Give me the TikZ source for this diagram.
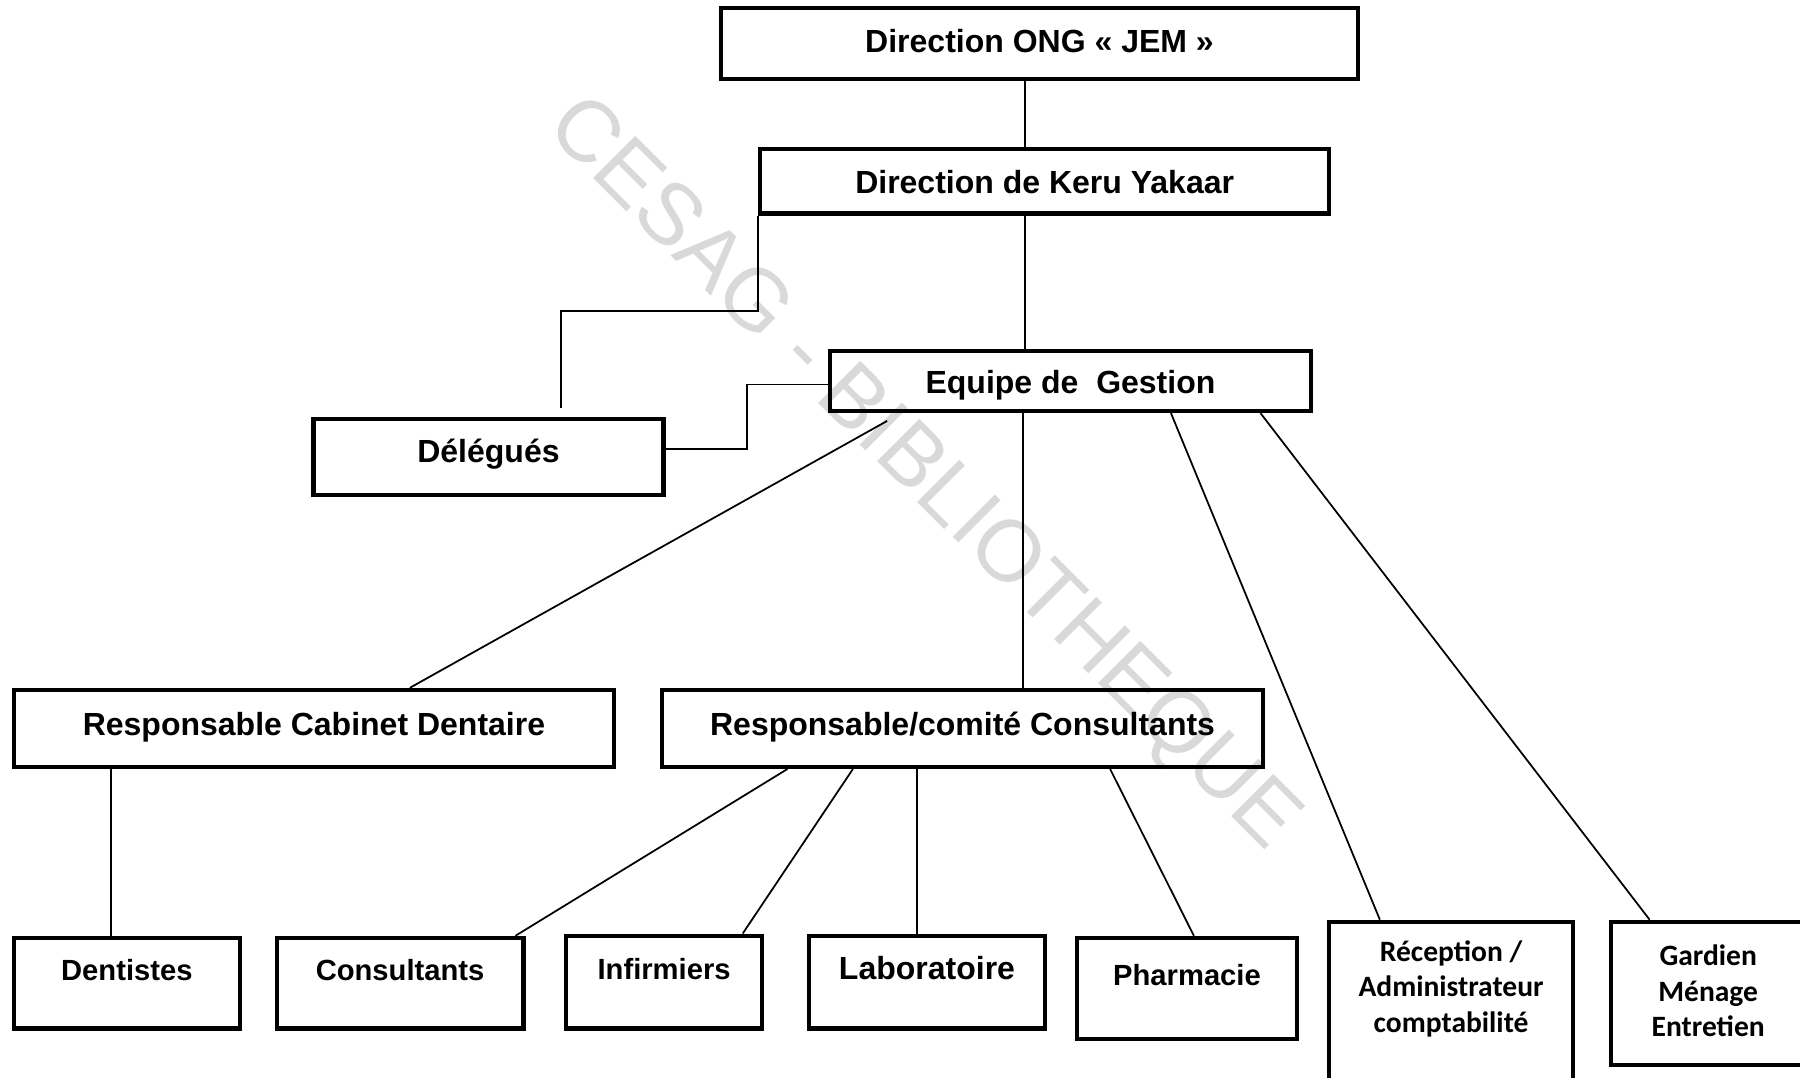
\documentclass[tikz,border=0pt]{standalone}
\usepackage{fontspec}
\setmainfont{Liberation Sans}
\newfontfamily\calib{Carlito}
\usetikzlibrary{positioning,calc}
\newlength\pxu
\setlength\pxu{0.01148cm}
\tikzstyle{box}=[rectangle, draw=black, line width=1.2pt, inner sep=0pt, text height=7pt, text depth=0pt, font=\bfseries\fontsize{9.1}{11}\selectfont]
\tikzstyle{sbox}=[box, font=\bfseries\fontsize{8.3}{10}\selectfont]
\tikzstyle{cbox}=[box, align=center, font=\calib\bfseries\fontsize{8.4}{10.1}\selectfont]
\tikzstyle{l1}=[line width=0.5pt]

\begin{document}
\begin{tikzpicture}[x=\pxu, y=-\pxu]
    \useasboundingbox (0,0) rectangle (1568,939);
    \clip (0,0) rectangle (1568,939);

    \node[rotate=-45, text=black!15, font=\fontsize{24.7}{24.7}\selectfont] at (803,414) (wm) {CESAG - BIBLIOTHEQUE};

    \node[box, minimum width=555\pxu, minimum height=62\pxu, text depth=2pt] at (905.5,38) (ong) {Direction ONG « JEM »};
    \node[box, minimum width=496\pxu, minimum height=56\pxu] at (910,158) (keru) {Direction de Keru Yakaar};
    \node[box, minimum width=419\pxu, minimum height=52\pxu] at (932.5,332) (eq) {Equipe de\ \ Gestion};
    \node[box, minimum width=305\pxu, minimum height=66\pxu, text depth=3.9pt] at (425.5,398) (del) {Délégués};

    \node[box, minimum width=523\pxu, minimum height=67\pxu, text depth=2.9pt] at (273.5,634.5) (rcd) {Responsable Cabinet Dentaire};
    \node[box, minimum width=523\pxu, minimum height=67\pxu, text depth=2.9pt] at (838.5,634.5) (rcc) {Responsable/comité Consultants};

    \node[sbox, minimum width=197\pxu, minimum height=79\pxu, text depth=8.8pt] at (110.5,856.5) (dent) {Dentistes};
    \node[sbox, minimum width=215\pxu, minimum height=79\pxu, text depth=8.8pt] at (348.5,856.5) (cons) {Consultants};
    \node[sbox, minimum width=171\pxu, minimum height=81\pxu, text depth=8.2pt] at (578.5,855.5) (inf) {Infirmiers};
    \node[box, minimum width=205\pxu, minimum height=81\pxu, text depth=8.2pt] at (807.5,855.5) (lab) {Laboratoire};
    \node[sbox, minimum width=192\pxu, minimum height=88\pxu, text depth=8.5pt] at (1034,861) (pha) {Pharmacie};
    \node[cbox, minimum width=212\pxu, minimum height=162\pxu, text height=9.8pt] at (1264,884) (rec) {Réception /\\Administrateur\\comptabilité};
    \node[cbox, minimum width=170\pxu, minimum height=125\pxu, text height=24.6pt] at (1488,865.5) (gar) {Gardien\\Ménage\\Entretien};

    \draw[l1] (ong.south -| 893,0) -- (keru.north -| 893,0);
    \draw[l1] (keru.south -| 893,0) -- (eq.north -| 893,0);
    \draw[l1, shorten >=8\pxu] (keru.south west) |- (489,271) -- (del.north -| 489,0);
    \draw[l1] (del.east |- 0,391) -| (651,335) -- (eq.west |- 0,335);

    \draw[l1, shorten <=14\pxu] (eq.south -| 785,0) -- (rcd.north -| 357,0);
    \draw[l1] (eq.south -| 891,0) -- (rcc.north -| 891,0);
    \draw[l1] (eq.south -| 1020,0) -- (rec.north -| 1202,0);
    \draw[l1] (eq.south -| 1098,0) -- (gar.north -| 1437,0);

    \draw[l1] (rcd.south -| 97,0) -- (dent.north -| 97,0);
    \draw[l1] (rcc.south -| 686,0) -- (cons.north -| 449,0);
    \draw[l1] (rcc.south -| 743,0) -- (inf.north -| 647,0);
    \draw[l1] (rcc.south -| 799,0) -- (lab.north -| 799,0);
    \draw[l1] (rcc.south -| 967,0) -- (pha.north -| 1040,0);
\end{tikzpicture}
\end{document}
